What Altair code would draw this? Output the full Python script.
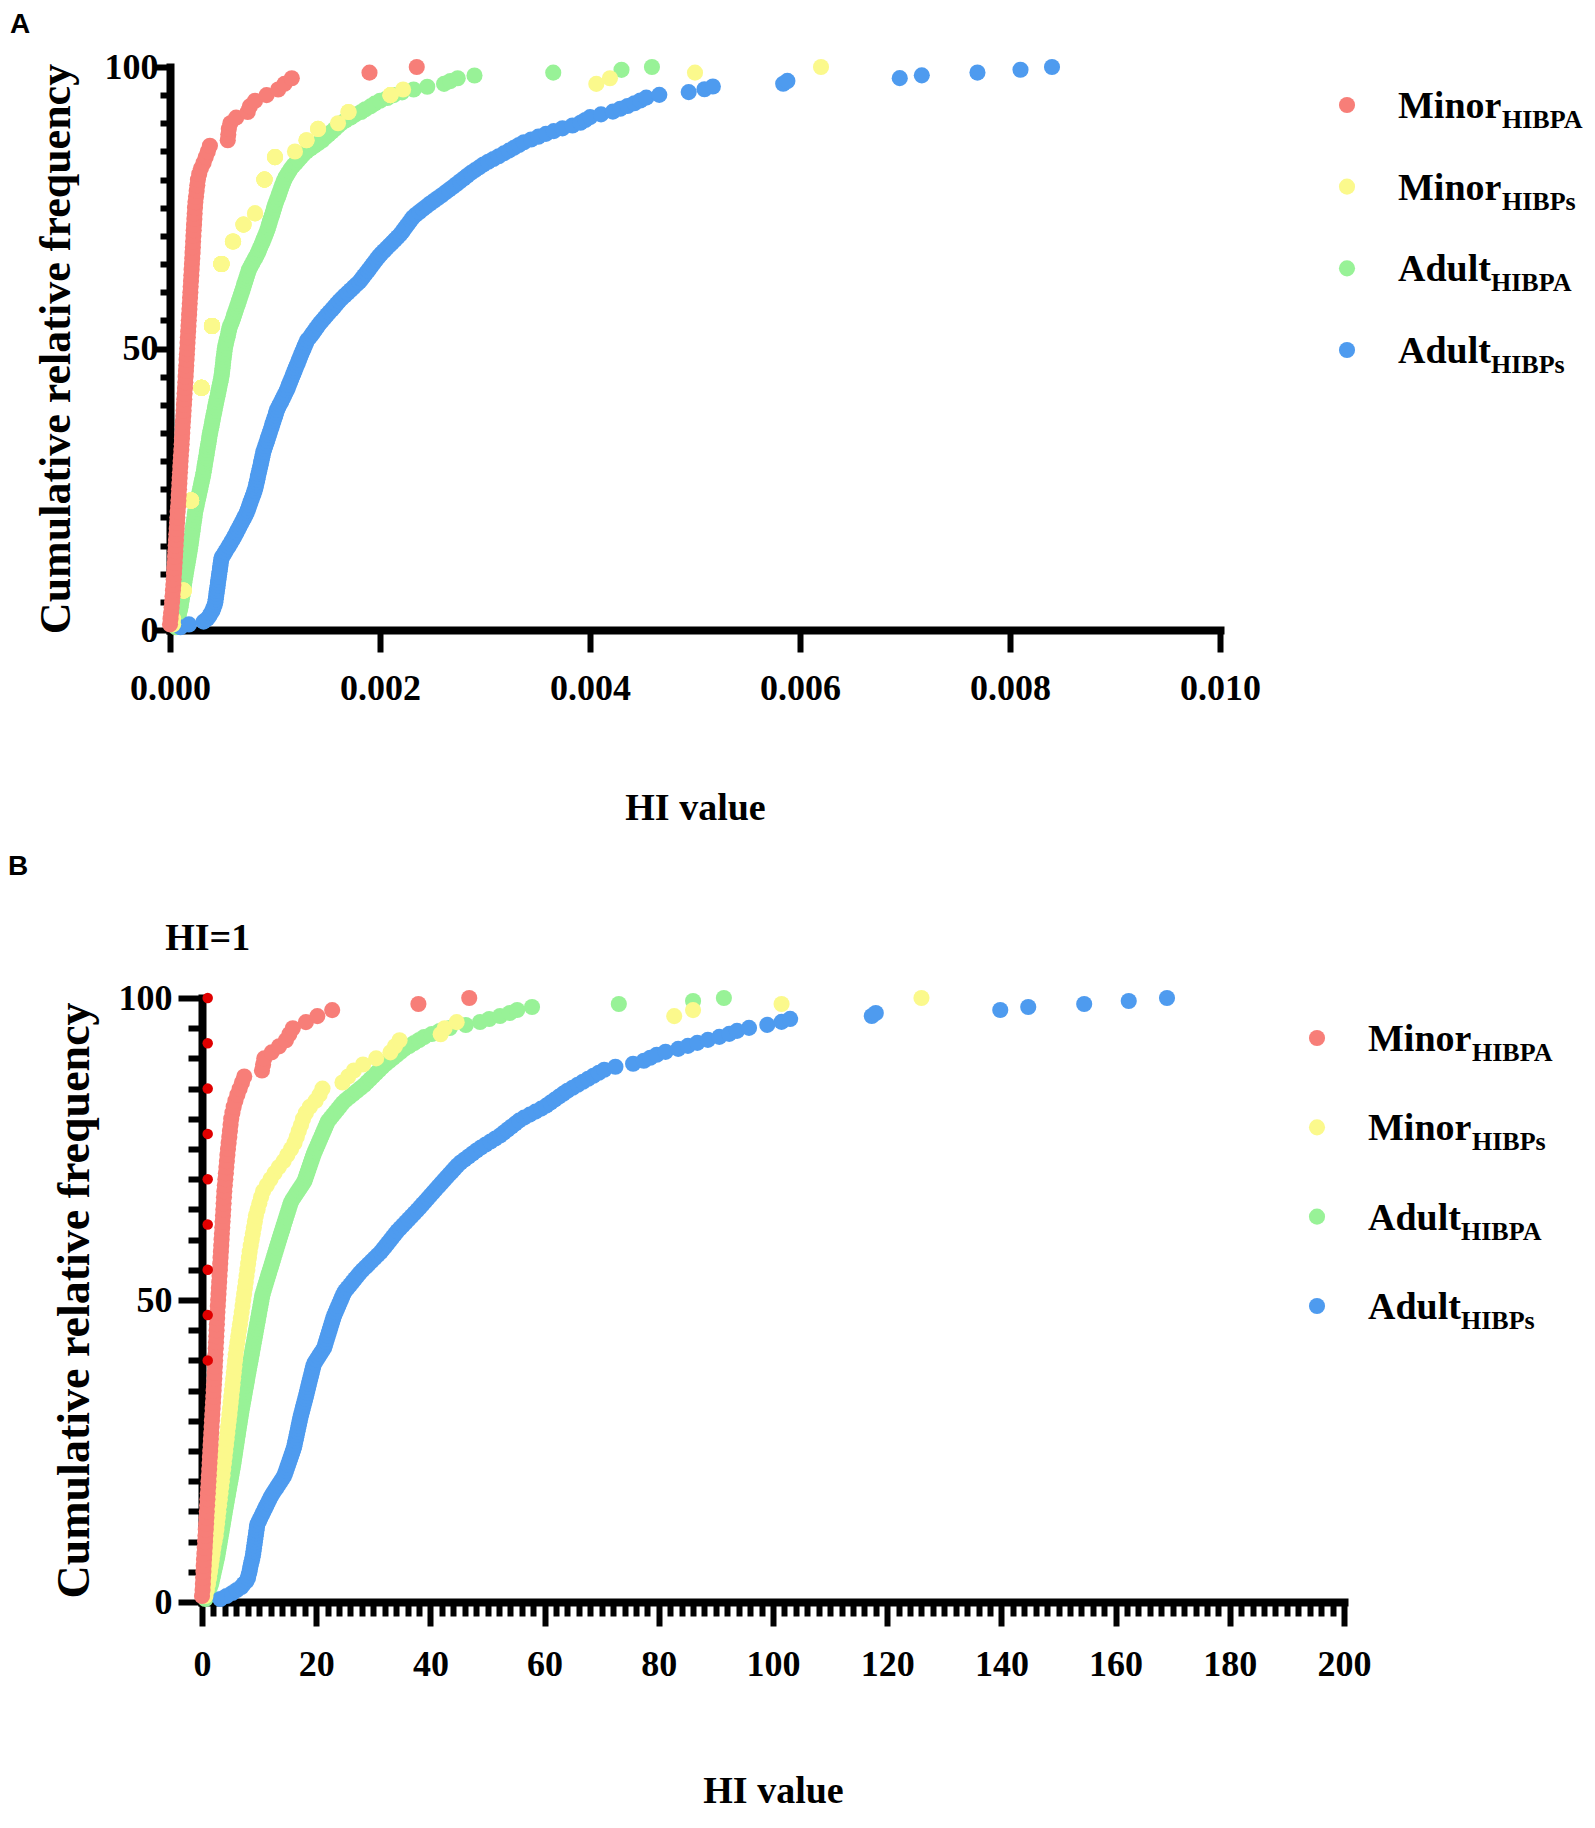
import altair as alt
import pandas as pd

SERIF = "Liberation Serif"
SANS = "Liberation Sans"

SERIES = ["Minor HIBPA", "Minor HIBPs", "Adult HIBPA", "Adult HIBPs"]
MAIN = ["Minor", "Minor", "Adult", "Adult"]
SUB = ["HIBPA", "HIBPs", "HIBPA", "HIBPs"]
COLORS = ["#F77E78", "#FBF98C", "#98F297", "#4E9BEF"]
DRAW = [3, 2, 0, 1]

Y_TICKS = [0, 5, 10, 15, 20, 25, 30, 35, 40, 45, 50, 55, 60, 65, 70, 75, 80, 85, 90, 95, 100]
A_X_TICKS = [0.0, 0.002, 0.004, 0.006, 0.008, 0.010]

# ---------------- Panel A: HI values ----------------
A_MINOR_HIBPA = [
    0.0, 0.000005, 0.00001, 0.000015, 0.00002, 0.000024, 0.000028, 0.000032, 0.000035, 0.000038,
    0.000041, 0.000045, 0.000048, 0.000051, 0.000054, 0.000057, 0.00006, 0.000064, 0.000067, 0.00007,
    0.000073, 0.000077, 0.00008, 0.000083, 0.000086, 0.000089, 0.000092, 0.000095, 0.000098, 0.000101,
    0.000104, 0.000108, 0.000111, 0.000114, 0.000117, 0.00012, 0.000123, 0.000127, 0.00013, 0.000133,
    0.000136, 0.000139, 0.000143, 0.000146, 0.000149, 0.000152, 0.000155, 0.000158, 0.000161, 0.000164,
    0.000167, 0.00017, 0.000173, 0.000176, 0.000179, 0.000182, 0.000185, 0.000188, 0.000191, 0.000194,
    0.000197, 0.0002, 0.000203, 0.000206, 0.000209, 0.000212, 0.000215, 0.000218, 0.00022, 0.000223,
    0.000226, 0.000229, 0.000232, 0.000235, 0.000238, 0.000242, 0.000248, 0.000254, 0.00026, 0.000266,
    0.000278, 0.000295, 0.00032, 0.00034, 0.00036, 0.00038, 0.00055, 0.000555, 0.00056, 0.000575,
    0.00063, 0.00074, 0.00076, 0.00081, 0.00092, 0.00103, 0.00109, 0.00116, 0.0019, 0.00235,
]
A_MINOR_HIBPS_VALUES = [0.00003, 0.00013, 0.0002, 0.0003, 0.0004, 0.00049, 0.0006, 0.0007, 0.00081, 0.0009,
                        0.001, 0.00119, 0.0013, 0.00141, 0.0016, 0.0017, 0.0021, 0.00222, 0.00406, 0.00419,
                        0.005, 0.0062]
A_MINOR_HIBPS_COUNTS = [2, 5, 16, 20, 11, 11, 4, 3, 2, 6, 4, 1, 2, 2, 1, 2, 3, 1, 1, 1, 1, 1]
A_ADULT_HIBPA = [
    0.000056, 0.000062, 0.000069, 0.000075, 0.000081, 0.000087, 0.000094, 0.0001, 0.000104, 0.000108,
    0.000113, 0.000117, 0.000121, 0.000125, 0.000129, 0.000133, 0.000137, 0.000141, 0.000146, 0.00015,
    0.000155, 0.000159, 0.000164, 0.000168, 0.000173, 0.000178, 0.000182, 0.000187, 0.000191, 0.000195,
    0.000199, 0.000203, 0.000206, 0.00021, 0.000214, 0.000218, 0.000221, 0.000225, 0.000229, 0.000233,
    0.000236, 0.00024, 0.000246, 0.000252, 0.000257, 0.000263, 0.000269, 0.000275, 0.000281, 0.000287,
    0.000292, 0.000298, 0.000304, 0.00031, 0.000315, 0.00032, 0.000325, 0.000329, 0.000333, 0.000338,
    0.000342, 0.000347, 0.000351, 0.000355, 0.00036, 0.000364, 0.000369, 0.000373, 0.000377, 0.000382,
    0.000387, 0.000393, 0.000398, 0.000403, 0.000408, 0.000413, 0.000419, 0.000424, 0.000429, 0.000435,
    0.00044, 0.000446, 0.000452, 0.000457, 0.000463, 0.000468, 0.000474, 0.000479, 0.000485, 0.00049,
    0.000494, 0.000497, 0.0005, 0.000503, 0.000506, 0.000509, 0.000512, 0.000516, 0.000519, 0.000522,
    0.000528, 0.000534, 0.00054, 0.000547, 0.000553, 0.000559, 0.000565, 0.000572, 0.000585, 0.000594,
    0.000603, 0.000612, 0.000621, 0.00063, 0.000639, 0.000648, 0.000657, 0.000666, 0.000675, 0.000684,
    0.000692, 0.000701, 0.000709, 0.000718, 0.000726, 0.000735, 0.000743, 0.000752, 0.000766, 0.000781,
    0.000795, 0.00081, 0.000824, 0.000838, 0.000849, 0.00086, 0.000872, 0.000883, 0.000894, 0.000905,
    0.000916, 0.000926, 0.000934, 0.000943, 0.000951, 0.000959, 0.000968, 0.000976, 0.000984, 0.000993,
    0.001, 0.00101, 0.00102, 0.00103, 0.00104, 0.001049, 0.001059, 0.001068, 0.001078, 0.00109,
    0.001103, 0.00112, 0.001137, 0.001153, 0.001175, 0.0012, 0.001224, 0.001248, 0.001272, 0.0013,
    0.001338, 0.001376, 0.001414, 0.001452, 0.00148, 0.00151, 0.00154, 0.00157, 0.0016, 0.00163,
    0.00167, 0.00172, 0.00176, 0.00182, 0.00186, 0.00191, 0.00195, 0.002, 0.00207, 0.00213,
    0.00221, 0.00232, 0.00245, 0.00261, 0.00267, 0.00274, 0.0029, 0.00365, 0.0043, 0.00459,
]
A_ADULT_HIBPS = [
    0.0001, 0.00018, 0.00032, 0.000355, 0.000375, 0.00039, 0.000405, 0.000415, 0.000425, 0.000432,
    0.000435, 0.000439, 0.000443, 0.000446, 0.00045, 0.000454, 0.000457, 0.000461, 0.000465, 0.000468,
    0.000472, 0.000476, 0.00048, 0.000483, 0.000487, 0.000492, 0.00051, 0.000526, 0.000542, 0.000558,
    0.000574, 0.00059, 0.000606, 0.00062, 0.000633, 0.000647, 0.000661, 0.000675, 0.000689, 0.000703,
    0.000716, 0.00073, 0.00074, 0.000749, 0.000759, 0.000768, 0.000778, 0.000787, 0.000797, 0.000806,
    0.000814, 0.00082, 0.000826, 0.000832, 0.000837, 0.000843, 0.000849, 0.000855, 0.000861, 0.000867,
    0.000873, 0.000878, 0.000884, 0.00089, 0.000899, 0.000908, 0.000917, 0.000925, 0.000934, 0.000943,
    0.000952, 0.00096, 0.000969, 0.000977, 0.000986, 0.000994, 0.001003, 0.001011, 0.00102, 0.001033,
    0.001046, 0.00106, 0.001073, 0.001086, 0.001099, 0.001113, 0.001123, 0.001133, 0.001144, 0.001155,
    0.001165, 0.001176, 0.001187, 0.001197, 0.001208, 0.001219, 0.001229, 0.00124, 0.001251, 0.001262,
    0.001273, 0.001284, 0.001296, 0.001307, 0.001331, 0.00135, 0.001369, 0.001388, 0.001407, 0.001426,
    0.001449, 0.001472, 0.001495, 0.001518, 0.001542, 0.001565, 0.001588, 0.001611, 0.001637, 0.001665,
    0.001693, 0.001721, 0.001749, 0.001777, 0.001805, 0.001826, 0.001846, 0.001867, 0.001887, 0.001907,
    0.001927, 0.001947, 0.001968, 0.001988, 0.002011, 0.002037, 0.002064, 0.00209, 0.002116, 0.002143,
    0.002169, 0.002194, 0.002214, 0.002233, 0.002253, 0.002273, 0.002293, 0.002312, 0.00234, 0.002375,
    0.002409, 0.002443, 0.002477, 0.002514, 0.002551, 0.002588, 0.002624, 0.002659, 0.002695, 0.00273,
    0.002763, 0.002797, 0.00283, 0.002866, 0.002905, 0.002945, 0.002984, 0.00303, 0.00308, 0.00313,
    0.00318, 0.003228, 0.003275, 0.003323, 0.00337, 0.003439, 0.003508, 0.00358, 0.003655, 0.003738,
    0.003833, 0.003909, 0.003955, 0.004001, 0.004105, 0.004218, 0.004288, 0.004358, 0.004423, 0.004479,
    0.004536, 0.00466, 0.00494, 0.00509, 0.00517, 0.00584, 0.00588, 0.00695, 0.00716, 0.00769,
    0.0081, 0.0084,
]

# ---------------- Panel B: HI values ----------------
B_MINOR_HIBPA = [
    0.0, 0.1, 0.15, 0.2, 0.25, 0.3, 0.35, 0.42, 0.48, 0.54,
    0.6, 0.66, 0.72, 0.78, 0.84, 0.9, 0.96, 1.02, 1.08, 1.14,
    1.2, 1.26, 1.32, 1.38, 1.44, 1.5, 1.56, 1.62, 1.68, 1.74,
    1.8, 1.86, 1.92, 1.98, 2.04, 2.1, 2.16, 2.21, 2.26, 2.31,
    2.36, 2.41, 2.46, 2.51, 2.56, 2.61, 2.66, 2.71, 2.77, 2.83,
    2.89, 2.95, 3.01, 3.07, 3.13, 3.19, 3.25, 3.31, 3.37, 3.43,
    3.49, 3.55, 3.61, 3.67, 3.73, 3.79, 3.85, 3.91, 4.0, 4.09,
    4.18, 4.27, 4.36, 4.45, 4.55, 4.66, 4.78, 4.89, 5.0, 5.12,
    5.33, 5.55, 5.85, 6.2, 6.6, 7.0, 7.4, 10.5, 10.7, 10.9,
    12.2, 13.5, 14.7, 15.3, 15.9, 18.2, 20.2, 22.8, 37.9, 46.8,
]
B_MINOR_HIBPS = [
    0.6, 0.85, 1.05, 1.25, 1.4, 1.55, 1.7, 1.85, 2.0, 2.2,
    2.4, 2.52, 2.64, 2.76, 2.88, 3.0, 3.12, 3.24, 3.36, 3.48,
    3.6, 3.72, 3.84, 3.96, 4.08, 4.2, 4.32, 4.44, 4.56, 4.68,
    4.8, 4.91, 5.02, 5.13, 5.24, 5.35, 5.46, 5.57, 5.68, 5.79,
    5.9, 6.05, 6.2, 6.35, 6.5, 6.65, 6.8, 6.95, 7.1, 7.24,
    7.38, 7.52, 7.66, 7.8, 7.94, 8.08, 8.22, 8.35, 8.53, 8.71,
    8.9, 9.08, 9.26, 9.44, 9.74, 10.04, 10.34, 10.7, 11.35, 12.0,
    12.7, 13.45, 14.3, 14.95, 15.6, 16.2, 16.6, 16.95, 17.35, 17.7,
    18.2, 18.9, 19.9, 20.6, 21.1, 24.6, 25.6, 26.6, 28.2, 30.5,
    33.0, 33.8, 34.6, 41.8, 42.5, 44.6, 82.7, 86.0, 101.5, 126.0,
]
B_ADULT_HIBPA = [
    0.6, 0.8, 1.0, 1.2, 1.4, 1.6, 1.72, 1.84, 1.95, 2.07,
    2.19, 2.31, 2.42, 2.54, 2.66, 2.75, 2.84, 2.93, 3.02, 3.11,
    3.2, 3.29, 3.38, 3.47, 3.56, 3.65, 3.74, 3.83, 3.92, 4.0,
    4.09, 4.19, 4.28, 4.37, 4.47, 4.56, 4.65, 4.75, 4.84, 4.94,
    5.03, 5.12, 5.22, 5.31, 5.41, 5.49, 5.57, 5.65, 5.73, 5.81,
    5.89, 5.97, 6.05, 6.13, 6.21, 6.29, 6.37, 6.45, 6.53, 6.62,
    6.7, 6.78, 6.86, 6.95, 7.05, 7.14, 7.23, 7.33, 7.42, 7.51,
    7.61, 7.7, 7.8, 7.89, 7.98, 8.08, 8.17, 8.26, 8.37, 8.47,
    8.56, 8.66, 8.75, 8.85, 8.94, 9.04, 9.13, 9.23, 9.32, 9.42,
    9.51, 9.61, 9.7, 9.8, 9.89, 9.99, 10.08, 10.18, 10.27, 10.37,
    10.46, 10.56, 10.69, 10.85, 11.01, 11.17, 11.33, 11.49, 11.65, 11.81,
    11.97, 12.13, 12.29, 12.45, 12.61, 12.77, 12.93, 13.09, 13.25, 13.41,
    13.57, 13.73, 13.9, 14.07, 14.23, 14.4, 14.57, 14.73, 14.9, 15.07,
    15.23, 15.4, 15.57, 15.86, 16.21, 16.56, 16.91, 17.26, 17.61, 17.94,
    18.12, 18.3, 18.48, 18.66, 18.84, 19.02, 19.2, 19.38, 19.56, 19.78,
    20.01, 20.24, 20.46, 20.69, 20.92, 21.14, 21.37, 21.6, 21.82, 22.06,
    22.49, 22.91, 23.34, 23.77, 24.19, 24.62, 25.16, 25.81, 26.46, 27.11,
    27.76, 28.41, 28.93, 29.46, 29.99, 30.52, 31.05, 31.58, 32.16, 32.81,
    33.46, 34.1, 34.75, 35.4, 36.28, 37.15, 38.03, 38.9, 40.25, 41.6,
    43.4, 46.2, 48.7, 50.3, 52.2, 53.9, 55.2, 57.8, 73.0, 86.0,
    91.4,
]
B_ADULT_HIBPS = [
    3.2, 4.3, 5.3, 6.1, 6.9, 7.3, 7.8, 8.05, 8.15, 8.3,
    8.4, 8.5, 8.6, 8.75, 8.85, 8.95, 9.02, 9.1, 9.17, 9.25,
    9.32, 9.4, 9.47, 9.55, 9.62, 9.7, 9.96, 10.21, 10.47, 10.72,
    10.98, 11.23, 11.49, 11.74, 12.0, 12.3, 12.64, 12.98, 13.31, 13.66,
    14.0, 14.33, 14.54, 14.73, 14.9, 15.09, 15.27, 15.45, 15.63, 15.81,
    15.99, 16.15, 16.26, 16.37, 16.49, 16.6, 16.71, 16.82, 16.94, 17.05,
    17.16, 17.28, 17.41, 17.55, 17.68, 17.82, 17.96, 18.09, 18.23, 18.36,
    18.49, 18.61, 18.74, 18.87, 19.0, 19.13, 19.26, 19.39, 19.52, 19.73,
    20.07, 20.4, 20.73, 21.07, 21.4, 21.56, 21.72, 21.88, 22.04, 22.2,
    22.36, 22.52, 22.68, 22.84, 23.0, 23.19, 23.42, 23.64, 23.87, 24.09,
    24.32, 24.54, 24.77, 25.07, 25.5, 25.94, 26.36, 26.78, 27.2, 27.63,
    28.12, 28.65, 29.18, 29.71, 30.24, 30.77, 31.3, 31.71, 32.13, 32.54,
    32.96, 33.37, 33.79, 34.2, 34.7, 35.2, 35.7, 36.2, 36.7, 37.2,
    37.7, 38.18, 38.64, 39.1, 39.56, 40.02, 40.49, 40.95, 41.41, 41.88,
    42.35, 42.82, 43.3, 43.77, 44.24, 44.72, 45.28, 45.98, 46.68, 47.38,
    48.08, 48.84, 49.68, 50.52, 51.36, 52.2, 52.87, 53.53, 54.2, 54.87,
    55.53, 56.4, 57.4, 58.4, 59.4, 60.3, 61.04, 61.78, 62.52, 63.26,
    64.0, 64.9, 65.8, 66.71, 67.62, 68.55, 69.49, 70.44, 72.4, 75.5,
    77.38, 78.5, 79.63, 81.18, 83.4, 85.1, 86.74, 88.6, 90.6, 92.34,
    93.7, 95.8, 99.0, 101.5, 103.0, 117.3, 118.0, 139.8, 144.7, 154.5,
    162.3, 169.0,
]
# HI = 1 reference markers (panel B)
HI1_X = [1, 1, 1, 1, 1, 1, 1, 1, 1]
HI1_Y = [40, 47.5, 55, 62.5, 70, 77.5, 85, 92.5, 100]


def build_df(lists):
    rows = []
    for name, draw, vals in lists:
        for v in vals:
            rows.append({"series": name, "hi": v, "draw": draw})
    return pd.DataFrame(rows)


yellow_a = []
for v, c in zip(A_MINOR_HIBPS_VALUES, A_MINOR_HIBPS_COUNTS):
    yellow_a.extend([v] * c)

df_a = build_df([
    (SERIES[0], DRAW[0], A_MINOR_HIBPA),
    (SERIES[1], DRAW[1], yellow_a),
    (SERIES[2], DRAW[2], A_ADULT_HIBPA),
    (SERIES[3], DRAW[3], A_ADULT_HIBPS),
])
df_b = build_df([
    (SERIES[0], DRAW[0], B_MINOR_HIBPA),
    (SERIES[1], DRAW[1], B_MINOR_HIBPS),
    (SERIES[2], DRAW[2], B_ADULT_HIBPA),
    (SERIES[3], DRAW[3], B_ADULT_HIBPS),
])
leg_df = pd.DataFrame({"series": SERIES, "main": MAIN, "sub": SUB})

color_scale = alt.Scale(domain=SERIES, range=COLORS)
DOT = 260


def panel(df, xscale, xaxis, yaxis, width, height, leg_range, leg_dot_x, leg_text_x,
          label, label_x, label_y, extra_layers=()):
    pts = alt.Chart(df).transform_window(
        cd="cume_dist()", groupby=["series"], sort=[alt.SortField("hi", order="ascending")]
    ).transform_calculate(cum="datum.cd * 100").mark_circle(size=DOT, opacity=1).encode(
        x=alt.X("hi:Q", scale=xscale, axis=xaxis, title="HI value"),
        y=alt.Y("cum:Q", scale=alt.Scale(domain=[0, 100], nice=False, zero=True), axis=yaxis,
                title="Cumulative relative frequency"),
        color=alt.Color("series:N", scale=color_scale, legend=None),
        order=alt.Order("draw:Q"),
    )
    ly = alt.Y("series:N", scale=alt.Scale(type="point", domain=SERIES, range=leg_range, padding=0),
               axis=None)
    leg = alt.Chart(leg_df)
    leg_pts = leg.mark_circle(size=DOT, opacity=1).encode(
        x=alt.value(leg_dot_x), y=ly, color=alt.Color("series:N", scale=color_scale, legend=None)
    )
    leg_main = leg.mark_text(align="left", baseline="alphabetic", dy=13, font=SERIF, fontSize=38,
                             fontWeight="bold", color="black").encode(
        x=alt.value(leg_text_x), y=ly, text="main:N")
    leg_sub_minor = leg.transform_filter("datum.main === 'Minor'").mark_text(
        align="left", baseline="alphabetic", dy=23, font=SERIF, fontSize=26, fontWeight="bold",
        color="black").encode(x=alt.value(leg_text_x + 104), y=ly, text="sub:N")
    leg_sub_adult = leg.transform_filter("datum.main === 'Adult'").mark_text(
        align="left", baseline="alphabetic", dy=23, font=SERIF, fontSize=26, fontWeight="bold",
        color="black").encode(x=alt.value(leg_text_x + 93), y=ly, text="sub:N")
    lab = alt.Chart(pd.DataFrame({"t": [label]})).mark_text(
        align="left", baseline="alphabetic", font=SANS, fontSize=28, fontWeight="bold",
        color="black").encode(x=alt.value(label_x), y=alt.value(label_y), text="t:N")
    layers = [pts] + list(extra_layers) + [leg_pts, leg_main, leg_sub_minor, leg_sub_adult, lab]
    return alt.layer(*layers).resolve_scale(y="independent").properties(width=width, height=height)


# Both panels share one left origin in the column layout; panel A's axes sit SHIFT px
# further left than panel B's, as in the original figure.
SHIFT = 32

# ---------- Panel A ----------
xscale_a = alt.Scale(domain=[0, 0.010], nice=False, zero=True, range=[-SHIFT, 1050 - SHIFT])
xaxis_a = alt.Axis(values=A_X_TICKS, format=".3f", tickSize=22, labelPadding=19, labelFontSize=36,
                   titleFontSize=38, titlePadding=83, labelOverlap=False, labelFlush=False)
yaxis_a = alt.Axis(values=Y_TICKS, labelExpr="datum.value % 50 === 0 ? datum.label : ''",
                   tickSize={"condition": {"test": "datum.value % 50 === 0", "value": 17}, "value": 10},
                   labelPadding=-5, labelFontSize=36, titleFontSize=44, titlePadding=26,
                   labelOverlap=False, labelFlush=False, offset=SHIFT)
panel_a = panel(df_a, xscale_a, xaxis_a, yaxis_a, 1050 - SHIFT, 563, [38, 283],
                1177 - SHIFT, 1228 - SHIFT, "A", -160 - SHIFT, -34)

# ---------- Panel B ----------
xscale_b = alt.Scale(domain=[0, 200], nice=False, zero=True)
xaxis_b = alt.Axis(tickCount=100, labelExpr="datum.value % 20 === 0 ? datum.label : ''",
                   tickSize={"condition": {"test": "datum.value % 20 === 0", "value": 24}, "value": 14},
                   labelPadding=21, labelFontSize=36, titleFontSize=38, titlePadding=90,
                   labelOverlap=False, labelFlush=False)
yaxis_b = alt.Axis(values=Y_TICKS, labelExpr="datum.value % 50 === 0 ? datum.label : ''",
                   tickSize={"condition": {"test": "datum.value % 50 === 0", "value": 24}, "value": 14},
                   labelPadding=6, labelFontSize=36, titleFontSize=46, titlePadding=20,
                   labelOverlap=False, labelFlush=False)

hi1 = alt.Chart(pd.DataFrame({"hi": HI1_X, "y": HI1_Y})).mark_circle(
    size=110, opacity=1, color="#E00000").encode(
    x=alt.X("hi:Q", scale=xscale_b, axis=xaxis_b, title="HI value"),
    y=alt.Y("y:Q", scale=alt.Scale(domain=[0, 100], nice=False), axis=None),
)
hi1_text = alt.Chart(pd.DataFrame({"hi": [1], "t": ["HI=1"]})).mark_text(
    align="center", baseline="alphabetic", font=SERIF, fontSize=38, fontWeight="bold",
    color="black").encode(
    x=alt.X("hi:Q", scale=xscale_b, axis=xaxis_b, title="HI value"),
    y=alt.value(-48), text="t:N")

panel_b = panel(df_b, xscale_b, xaxis_b, yaxis_b, 1142, 604, [40, 308], 1115, 1166,
                "B", -194, -123, extra_layers=[hi1, hi1_text])

chart = alt.vconcat(panel_a, panel_b, spacing=26).properties(
    padding={"left": 0, "top": 3, "right": 0, "bottom": 0}
).configure_view(stroke=None).configure_axis(
    labelFont=SERIF, labelFontWeight="bold", labelColor="black",
    titleFont=SERIF, titleFontWeight="bold", titleColor="black",
    domainColor="black", domainWidth=8, domainCap="square",
    tickColor="black", tickWidth=6, grid=False,
)

chart.save("out.html", embed_options={"renderer": "svg", "actions": False})
